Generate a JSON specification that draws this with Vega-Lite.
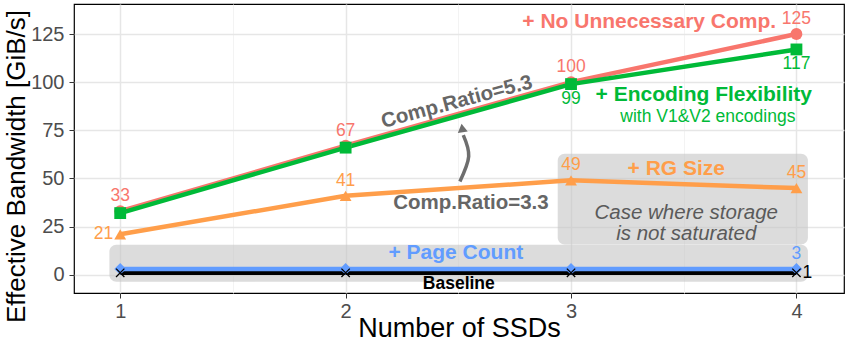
{
  "$schema": "https://vega.github.io/schema/vega-lite/v6.json",
  "width": 770,
  "height": 289,
  "autosize": "none",
  "padding": {"left": 74, "top": 4, "right": 3, "bottom": 50},
  "background": "white",
  "config": {
    "font": "Liberation Sans",
    "view": {"stroke": "black", "strokeWidth": 1.2}
  },
  "datasets": {
    "boxes": [
      {"x": 0.952, "x2": 4.051, "y": -3.6, "y2": 15.6},
      {"x": 2.941, "x2": 4.051, "y": 15.7, "y2": 62.8}
    ],
    "series": [
      {"s": "Baseline", "x": 1, "y": 1},
      {"s": "Baseline", "x": 2, "y": 1},
      {"s": "Baseline", "x": 3, "y": 1},
      {"s": "Baseline", "x": 4, "y": 1},
      {"s": "Page Count", "x": 1, "y": 3},
      {"s": "Page Count", "x": 2, "y": 3},
      {"s": "Page Count", "x": 3, "y": 3},
      {"s": "Page Count", "x": 4, "y": 3},
      {"s": "RG Size", "x": 1, "y": 21},
      {"s": "RG Size", "x": 2, "y": 41},
      {"s": "RG Size", "x": 3, "y": 49},
      {"s": "RG Size", "x": 4, "y": 45},
      {"s": "No Unnecessary Comp.", "x": 1, "y": 33},
      {"s": "No Unnecessary Comp.", "x": 2, "y": 67},
      {"s": "No Unnecessary Comp.", "x": 3, "y": 100},
      {"s": "No Unnecessary Comp.", "x": 4, "y": 125},
      {"s": "Encoding Flexibility", "x": 1, "y": 32},
      {"s": "Encoding Flexibility", "x": 2, "y": 66},
      {"s": "Encoding Flexibility", "x": 3, "y": 99},
      {"s": "Encoding Flexibility", "x": 4, "y": 117}
    ],
    "labels": [
      {"s": "No Unnecessary Comp.", "x": 1, "y": 33, "t": "33", "p": "above"},
      {"s": "No Unnecessary Comp.", "x": 2, "y": 67, "t": "67", "p": "above"},
      {"s": "No Unnecessary Comp.", "x": 3, "y": 100, "t": "100", "p": "above"},
      {"s": "No Unnecessary Comp.", "x": 4, "y": 125, "t": "125", "p": "above"},
      {"s": "Encoding Flexibility", "x": 3, "y": 99, "t": "99", "p": "below"},
      {"s": "Encoding Flexibility", "x": 4, "y": 117, "t": "117", "p": "below"},
      {"s": "RG Size", "x": 1, "y": 21, "t": "21", "p": "left"},
      {"s": "RG Size", "x": 2, "y": 41, "t": "41", "p": "above"},
      {"s": "RG Size", "x": 3, "y": 49, "t": "49", "p": "above"},
      {"s": "RG Size", "x": 4, "y": 45, "t": "45", "p": "above"},
      {"s": "Page Count", "x": 4, "y": 3, "t": "3", "p": "above"},
      {"s": "Baseline", "x": 4, "y": 1, "t": "1", "p": "right"}
    ],
    "notes": [
      {"k": "series", "s": "No Unnecessary Comp.", "x": 3.347, "y": 131, "t": "+ No Unnecessary Comp."},
      {"k": "series", "s": "Encoding Flexibility", "x": 3.589, "y": 93.4, "t": "+ Encoding Flexibility"},
      {"k": "sub", "s": "Encoding Flexibility", "x": 3.607, "y": 82, "t": "with V1&V2 encodings"},
      {"k": "series", "s": "RG Size", "x": 3.467, "y": 55, "t": "+ RG Size"},
      {"k": "series", "s": "Page Count", "x": 2.489, "y": 11.4, "t": "+ Page Count"},
      {"k": "base", "s": "Baseline", "x": 2.502, "y": -4.7, "t": "Baseline"},
      {"k": "case", "s": "", "x": 3.511, "y": 32.2, "t": "Case where storage"},
      {"k": "case", "s": "", "x": 3.511, "y": 21.3, "t": "is not saturated"},
      {"k": "r53", "s": "", "x": 2.493, "y": 89.7, "t": "Comp.Ratio=5.3"},
      {"k": "r33", "s": "", "x": 2.556, "y": 37.3, "t": "Comp.Ratio=3.3"}
    ],
    "arrow": [
      {"o": 1, "x": 2.507, "y": 48.4},
      {"o": 2, "x": 2.546, "y": 61.4},
      {"o": 3, "x": 2.522, "y": 72.5}
    ],
    "head": [
      {"x": 2.517, "y": 76.2}
    ]
  },
  "layer": [
    {
      "data": {"name": "boxes"},
      "mark": {"type": "rect", "cornerRadius": 7, "fill": "#c4c4c4", "opacity": 0.6},
      "encoding": {
        "x": {
          "field": "x", "type": "quantitative",
          "scale": {"domain": [0.795, 4.211], "nice": false, "zero": false},
          "axis": {
            "title": "Number of SSDs",
            "titleFontSize": 27, "titleFontWeight": "normal", "titleColor": "black",
            "titleBaseline": "alphabetic", "titleY": 43,
            "values": [1, 1.5, 2, 2.5, 3, 3.5, 4],
            "labelExpr": "datum.value % 1 === 0 ? format(datum.value, 'd') : ''",
            "labelFontSize": 20, "labelColor": "#4d4d4d", "labelPadding": 3,
            "tickSize": 5, "tickColor": "#333333",
            "tickOpacity": {"condition": {"test": "datum.value % 1 !== 0", "value": 0}, "value": 1},
            "domain": false,
            "grid": true,
            "gridColor": {"condition": {"test": "datum.value % 1 !== 0", "value": "#f2f2f2"}, "value": "#e6e6e6"},
            "gridWidth": {"condition": {"test": "datum.value % 1 !== 0", "value": 0.9}, "value": 1.5}
          }
        },
        "x2": {"field": "x2"},
        "y": {
          "field": "y", "type": "quantitative",
          "scale": {"domain": [-9.5, 140.6], "nice": false, "zero": false},
          "axis": {
            "title": "Effective Bandwidth [GiB/s]",
            "titleFontSize": 26, "titleFontWeight": "normal", "titleColor": "black",
            "titleBaseline": "alphabetic", "titleX": -50, "titleY": 162, "titleAngle": 270, "titleAlign": "center",
            "values": [0, 12.5, 25, 37.5, 50, 62.5, 75, 87.5, 100, 112.5, 125, 137.5],
            "labelExpr": "datum.value % 25 === 0 ? datum.label : ''",
            "labelFontSize": 20, "labelColor": "#4d4d4d", "labelPadding": 5,
            "tickSize": 5, "tickColor": "#333333",
            "tickOpacity": {"condition": {"test": "datum.value % 25 !== 0", "value": 0}, "value": 1},
            "domain": false,
            "grid": true,
            "gridColor": {"condition": {"test": "datum.value % 25 !== 0", "value": "#f2f2f2"}, "value": "#e6e6e6"},
            "gridWidth": {"condition": {"test": "datum.value % 25 !== 0", "value": 0.9}, "value": 1.5}
          }
        },
        "y2": {"field": "y2"}
      }
    },
    {
      "data": {"name": "series"},
      "mark": {"type": "line", "strokeWidth": 4.5},
      "encoding": {
        "x": {"field": "x", "type": "quantitative"},
        "y": {"field": "y", "type": "quantitative"},
        "color": {
          "field": "s", "type": "nominal",
          "scale": {
            "domain": ["No Unnecessary Comp.", "Encoding Flexibility", "RG Size", "Page Count", "Baseline", ""],
            "range": ["#F8766D", "#00BA38", "#FF9E4A", "#619CFF", "#000000", "#666666"]
          },
          "legend": null
        }
      }
    },
    {
      "data": {"name": "series"},
      "transform": [{"filter": "datum.s !== 'Baseline'"}],
      "mark": {"type": "point", "filled": true, "opacity": 1, "size": 140},
      "encoding": {
        "x": {"field": "x", "type": "quantitative"},
        "y": {"field": "y", "type": "quantitative"},
        "color": {"field": "s", "type": "nominal", "legend": null},
        "shape": {
          "field": "s", "type": "nominal",
          "scale": {
            "domain": ["No Unnecessary Comp.", "Encoding Flexibility", "RG Size", "Page Count"],
            "range": ["circle", "square", "triangle-up", "diamond"]
          },
          "legend": null
        }
      }
    },
    {
      "data": {"name": "series"},
      "transform": [{"filter": "datum.s === 'Baseline'"}],
      "mark": {"type": "point", "shape": "M-1,-1L1,1M-1,1L1,-1", "filled": false, "stroke": "black", "strokeWidth": 1.3, "size": 70, "opacity": 1},
      "encoding": {
        "x": {"field": "x", "type": "quantitative"},
        "y": {"field": "y", "type": "quantitative"}
      }
    },
    {
      "data": {"name": "labels"},
      "transform": [{"filter": "datum.p === 'above'"}],
      "mark": {"type": "text", "fontSize": 17.5, "dy": -15, "baseline": "middle"},
      "encoding": {
        "x": {"field": "x", "type": "quantitative"},
        "y": {"field": "y", "type": "quantitative"},
        "text": {"field": "t"},
        "color": {"field": "s", "type": "nominal", "legend": null}
      }
    },
    {
      "data": {"name": "labels"},
      "transform": [{"filter": "datum.p === 'below'"}],
      "mark": {"type": "text", "fontSize": 17.5, "dy": 15, "baseline": "middle"},
      "encoding": {
        "x": {"field": "x", "type": "quantitative"},
        "y": {"field": "y", "type": "quantitative"},
        "text": {"field": "t"},
        "color": {"field": "s", "type": "nominal", "legend": null}
      }
    },
    {
      "data": {"name": "labels"},
      "transform": [{"filter": "datum.p === 'left'"}],
      "mark": {"type": "text", "fontSize": 17.5, "dx": -7, "align": "right", "baseline": "middle"},
      "encoding": {
        "x": {"field": "x", "type": "quantitative"},
        "y": {"field": "y", "type": "quantitative"},
        "text": {"field": "t"},
        "color": {"field": "s", "type": "nominal", "legend": null}
      }
    },
    {
      "data": {"name": "labels"},
      "transform": [{"filter": "datum.p === 'right'"}],
      "mark": {"type": "text", "fontSize": 17.5, "dx": 6, "align": "left", "baseline": "middle"},
      "encoding": {
        "x": {"field": "x", "type": "quantitative"},
        "y": {"field": "y", "type": "quantitative"},
        "text": {"field": "t"},
        "color": {"field": "s", "type": "nominal", "legend": null}
      }
    },
    {
      "data": {"name": "notes"},
      "transform": [{"filter": "datum.k === 'series'"}],
      "mark": {"type": "text", "fontSize": 21, "fontWeight": "bold", "baseline": "middle"},
      "encoding": {
        "x": {"field": "x", "type": "quantitative"},
        "y": {"field": "y", "type": "quantitative"},
        "text": {"field": "t"},
        "color": {"field": "s", "type": "nominal", "legend": null}
      }
    },
    {
      "data": {"name": "notes"},
      "transform": [{"filter": "datum.k === 'sub'"}],
      "mark": {"type": "text", "fontSize": 17.5, "baseline": "middle"},
      "encoding": {
        "x": {"field": "x", "type": "quantitative"},
        "y": {"field": "y", "type": "quantitative"},
        "text": {"field": "t"},
        "color": {"field": "s", "type": "nominal", "legend": null}
      }
    },
    {
      "data": {"name": "notes"},
      "transform": [{"filter": "datum.k === 'base'"}],
      "mark": {"type": "text", "fontSize": 17.5, "fontWeight": "bold", "baseline": "middle", "color": "black"},
      "encoding": {
        "x": {"field": "x", "type": "quantitative"},
        "y": {"field": "y", "type": "quantitative"},
        "text": {"field": "t"}
      }
    },
    {
      "data": {"name": "notes"},
      "transform": [{"filter": "datum.k === 'case'"}],
      "mark": {"type": "text", "fontSize": 20.5, "fontStyle": "italic", "baseline": "middle", "color": "#5a5a5a"},
      "encoding": {
        "x": {"field": "x", "type": "quantitative"},
        "y": {"field": "y", "type": "quantitative"},
        "text": {"field": "t"}
      }
    },
    {
      "data": {"name": "notes"},
      "transform": [{"filter": "datum.k === 'r53'"}],
      "mark": {"type": "text", "fontSize": 20.5, "fontWeight": "bold", "baseline": "middle", "color": "#666666", "angle": 345},
      "encoding": {
        "x": {"field": "x", "type": "quantitative"},
        "y": {"field": "y", "type": "quantitative"},
        "text": {"field": "t"}
      }
    },
    {
      "data": {"name": "notes"},
      "transform": [{"filter": "datum.k === 'r33'"}],
      "mark": {"type": "text", "fontSize": 20.5, "fontWeight": "bold", "baseline": "middle", "color": "#666666"},
      "encoding": {
        "x": {"field": "x", "type": "quantitative"},
        "y": {"field": "y", "type": "quantitative"},
        "text": {"field": "t"}
      }
    },
    {
      "data": {"name": "arrow"},
      "mark": {"type": "line", "interpolate": "cardinal", "stroke": "#6e6e6e", "strokeWidth": 3.5, "strokeCap": "butt"},
      "encoding": {
        "x": {"field": "x", "type": "quantitative"},
        "y": {"field": "y", "type": "quantitative"},
        "order": {"field": "o", "type": "quantitative"}
      }
    },
    {
      "data": {"name": "head"},
      "mark": {"type": "point", "shape": "triangle-up", "filled": true, "color": "#6e6e6e", "opacity": 1, "size": 100, "angle": 352},
      "encoding": {
        "x": {"field": "x", "type": "quantitative"},
        "y": {"field": "y", "type": "quantitative"}
      }
    }
  ]
}
